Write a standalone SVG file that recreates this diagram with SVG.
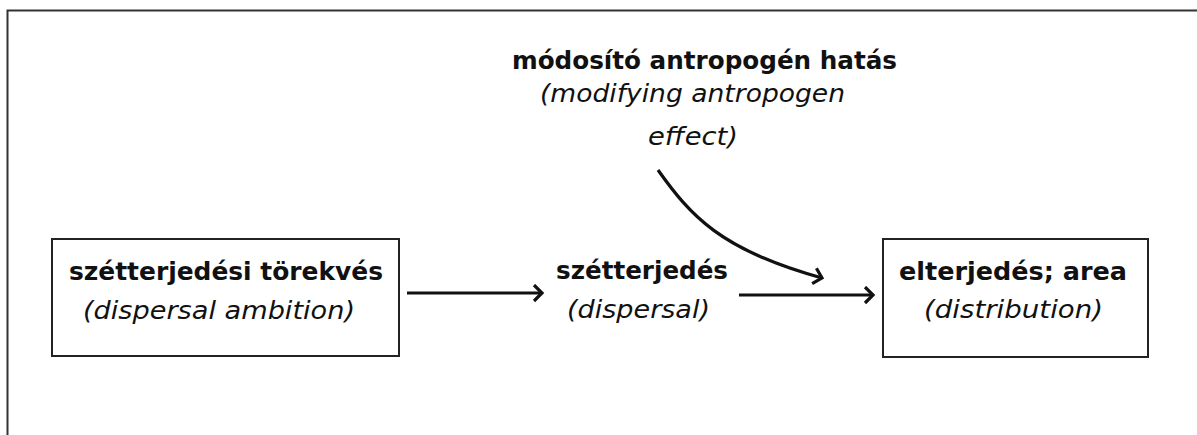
<svg xmlns="http://www.w3.org/2000/svg" width="1197" height="435" viewBox="0 0 1197 435">
<style>
.b{font-family:"DejaVu Sans",Verdana,sans-serif;font-weight:bold;font-size:25px;fill:#111;text-anchor:middle}
.i{font-family:"DejaVu Sans",Verdana,sans-serif;font-style:italic;font-size:25px;fill:#111;text-anchor:middle}
.box{fill:#fff;stroke:#222;stroke-width:2}
.c{fill:none;stroke:#111;stroke-width:3.2}
</style>
<defs>
<marker id="ah" markerUnits="userSpaceOnUse" markerWidth="20" markerHeight="20" refX="13" refY="9" orient="auto">
<path d="M5,1 L13,9 L5,17" fill="none" stroke="#111" stroke-width="3.2"/>
</marker>
</defs>
<rect width="1197" height="435" fill="#fff"/>
<rect x="7.5" y="10.5" width="1195" height="435" fill="none" stroke="#333" stroke-width="2"/>
<g id="node-ambition">
<rect class="box" x="52" y="239" width="347" height="117"/>
<text class="b" x="226" y="280" textLength="314" lengthAdjust="spacingAndGlyphs">szétterjedési törekvés</text>
<text class="i" x="219" y="319" textLength="272" lengthAdjust="spacingAndGlyphs">(dispersal ambition)</text>
</g>
<g id="node-dispersal">
<text class="b" x="642" y="279" textLength="172" lengthAdjust="spacingAndGlyphs">szétterjedés</text>
<text class="i" x="638.5" y="318" textLength="143" lengthAdjust="spacingAndGlyphs">(dispersal)</text>
</g>
<g id="node-distribution">
<rect class="box" x="883" y="239" width="265" height="118"/>
<text class="b" x="1013" y="280" textLength="228" lengthAdjust="spacingAndGlyphs">elterjedés; area</text>
<text class="i" x="1013.5" y="318" textLength="179" lengthAdjust="spacingAndGlyphs">(distribution)</text>
</g>
<g id="node-anthropogenic">
<text class="b" x="704.5" y="69" textLength="385" lengthAdjust="spacingAndGlyphs">módosító antropogén hatás</text>
<text class="i" x="692.5" y="102" textLength="305" lengthAdjust="spacingAndGlyphs">(modifying antropogen</text>
<text class="i" x="693" y="145" textLength="90" lengthAdjust="spacingAndGlyphs">effect)</text>
</g>
<g id="connectors">
<path class="c" d="M407,293 L542,293" marker-end="url(#ah)"/>
<path class="c" d="M739,295 L873,295" marker-end="url(#ah)"/>
<path class="c" d="M658,170 C690,215 720,250 822,278" marker-end="url(#ah)"/>
</g>
</svg>
